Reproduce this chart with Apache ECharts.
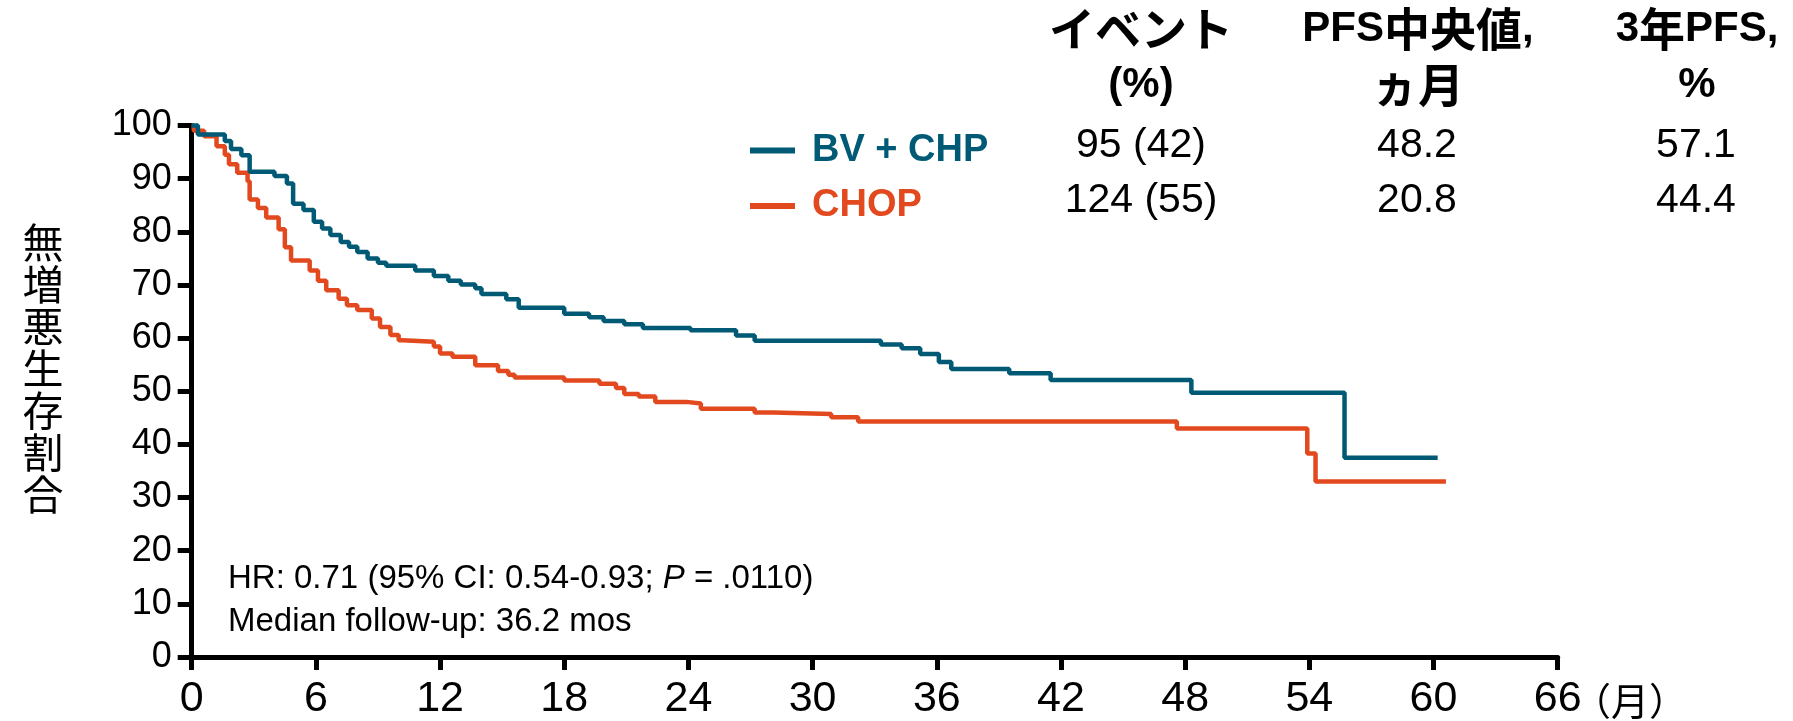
<!DOCTYPE html>
<html><head><meta charset="utf-8">
<script src="https://cdn.jsdelivr.net/npm/echarts@6/dist/echarts.min.js"></script>
<style>html,body{margin:0;padding:0;background:#fff}#c{width:1793px;height:721px}</style>
</head><body><div id="c"></div>
<script>
// ---- data ----
const seriesNames = ['BV + CHP', 'CHOP'];
const bvTimes = [0, 0.3, 1.6, 1.9, 2.4, 2.8, 4.0, 4.6, 4.9, 5.4, 5.9, 6.3, 6.7, 7.2, 7.6, 8.0, 8.5, 9.0, 9.4, 10.8, 11.7, 12.4, 13.0, 13.7, 14.0, 15.2, 15.8, 18.0, 19.2, 19.9, 20.9, 21.8, 24.1, 26.3, 27.2, 33.3, 34.3, 35.2, 36.1, 36.7, 39.5, 41.5, 48.3, 55.7, 60.2];
const bvSurv  = [100, 98.3, 97.1, 95.6, 94.4, 91.3, 90.5, 89.1, 85.3, 84.1, 81.9, 80.6, 79.4, 78.1, 77.2, 76.2, 75.0, 74.2, 73.6, 72.7, 71.7, 70.8, 70.1, 69.4, 68.3, 67.3, 65.7, 64.6, 63.9, 63.2, 62.6, 61.9, 61.5, 60.5, 59.5, 58.8, 58.1, 57.0, 55.5, 54.2, 53.4, 52.1, 49.7, 37.5, 37.5];
const chopTimes = [0, 0.1, 0.6, 1.2, 1.6, 1.8, 2.2, 2.7, 2.8, 3.2, 3.6, 4.2, 4.5, 4.8, 5.7, 6.1, 6.5, 7.1, 7.5, 8.0, 8.7, 9.1, 9.6, 10.0, 10.2, 11.7, 12.0, 12.6, 13.7, 14.8, 15.3, 15.6, 18.0, 19.7, 20.5, 20.9, 21.6, 22.4, 23.9, 24.6, 27.2, 28.1, 30.9, 32.2, 47.6, 53.9, 54.3, 60.6];
const chopSurv  = [100, 99.0, 98.0, 96.1, 94.5, 92.7, 91.1, 89.5, 86.1, 84.5, 82.7, 80.5, 77.1, 74.6, 72.7, 70.8, 69.0, 67.4, 66.2, 65.3, 63.7, 62.1, 60.6, 59.6, 59.3, 58.4, 57.1, 56.5, 54.9, 53.8, 53.1, 52.6, 52.0, 51.4, 50.6, 49.5, 49.0, 48.0, 47.7, 46.7, 46.0, 45.7, 45.1, 44.3, 43.0, 38.3, 33.0, 33.0];
const xTicks = [0, 6, 12, 18, 24, 30, 36, 42, 48, 54, 60, 66];
const yTicks = [0, 10, 20, 30, 40, 50, 60, 70, 80, 90, 100];
const headerLabels = ['{c|イベント}\n(%)', 'PFS{c|中央値},\n{c|ヵ月}', '3{c|年}PFS,\n%'];
const eventCounts = ['95 (42)', '124 (55)'];
const medianPFS = ['48.2', '20.8'];
const pfs3yr = ['57.1', '44.4'];
const yAxisName = '無増悪生存割合';
const xUnit = '（月）';
const hrText = ['HR: 0.71 (95% CI: 0.54-0.93; ', 'P', ' = .0110)'];
const followUpText = 'Median follow-up: 36.2 mos';

// ---- styles ----
const BLUE = '#005A75';
const ORANGE = '#E2491E';
const LATIN = '"Liberation Sans", "Noto Sans CJK JP", sans-serif';
const NARROW = '"Liberation Sans Narrow", "Liberation Sans", sans-serif';
const CJK = '"Noto Sans CJK JP", "Liberation Sans", sans-serif';

const chart = echarts.init(document.getElementById('c'), null, {renderer: 'canvas'});

const colX = [1141, 1418, 1697];
const rowY = [145.5, 201];
const graphics = [];
headerLabels.forEach((h, i) => {
  graphics.push({type: 'text', x: colX[i], y: 57, style: {text: h, align: 'center', verticalAlign: 'middle',
    fontSize: 42, fontWeight: 'bold', fontFamily: LATIN, lineHeight: 56, fill: '#000',
    rich: {c: {fontSize: 46, fontWeight: 'bold', fontFamily: CJK, lineHeight: 56, fill: '#000'}}}});
});
[eventCounts, medianPFS, pfs3yr].forEach((col, i) => {
  col.forEach((v, r) => {
    graphics.push({type: 'text', x: colX[i] - (i === 0 ? 0 : 1), y: rowY[r], style: {text: v, align: 'center', verticalAlign: 'middle',
      fontSize: 41, fontFamily: LATIN, fill: '#000'}});
  });
});
graphics.push({type: 'text', x: 228, y: 579, style: {
  text: hrText[0] + '{i|' + hrText[1] + '}' + hrText[2], align: 'left', verticalAlign: 'middle',
  fontSize: 33, fontFamily: LATIN, fill: '#000',
  rich: {i: {fontStyle: 'italic', fontSize: 33, fontFamily: LATIN, fill: '#000'}}}});
graphics.push({type: 'text', x: 228, y: 622, style: {text: followUpText, align: 'left', verticalAlign: 'middle',
  fontSize: 33, fontFamily: LATIN, fill: '#000'}});
graphics.push({type: 'text', x: 1630, y: 701, style: {text: xUnit, align: 'center', verticalAlign: 'middle',
  fontSize: 38, fontFamily: CJK, fill: '#000'}});
graphics.push({type: 'text', x: 43, y: 368, style: {text: yAxisName.split('').join('\n'), align: 'center', verticalAlign: 'middle',
  fontSize: 41, fontFamily: CJK, lineHeight: 42, fill: '#000'}});

const option = {
  backgroundColor: '#fff',
  animation: false,
  grid: {left: 191.7, right: 235.3, top: 125.5, bottom: 63, containLabel: false},
  legend: {
    orient: 'vertical', left: 745, top: 126.5, itemWidth: 45, itemHeight: 6, itemGap: 17.5,
    icon: 'rect', selectedMode: false,
    textStyle: {fontSize: 38, fontWeight: 'bold', fontFamily: LATIN, lineHeight: 38, padding: [0, 0, 0, 12]},
    data: [
      {name: seriesNames[0], textStyle: {color: BLUE}},
      {name: seriesNames[1], textStyle: {color: ORANGE}}
    ]
  },
  xAxis: {
    type: 'value', min: xTicks[0], max: xTicks[xTicks.length - 1], interval: 6,
    axisLine: {lineStyle: {color: '#000', width: 5}},
    axisTick: {length: 13, lineStyle: {color: '#000', width: 5}},
    axisLabel: {fontSize: 43, fontFamily: NARROW, color: '#000', margin: 21},
    splitLine: {show: false}
  },
  yAxis: {
    type: 'value', min: yTicks[0], max: yTicks[yTicks.length - 1], interval: 10,
    axisLine: {show: true, lineStyle: {color: '#000', width: 5}},
    axisTick: {show: true, length: 14, lineStyle: {color: '#000', width: 5}},
    axisLabel: {fontSize: 36, fontFamily: LATIN, color: '#000', margin: 20},
    splitLine: {show: false}
  },
  graphic: graphics,
  series: [
    {name: seriesNames[0], type: 'line', step: 'end', showSymbol: false, clip: false, z: 3,
     color: BLUE, lineStyle: {color: BLUE, width: 4.5}, emphasis: {disabled: true},
     data: bvTimes.map((t, i) => [t, bvSurv[i]])},
    {name: seriesNames[1], type: 'line', step: 'end', showSymbol: false, clip: false, z: 2,
     color: ORANGE, lineStyle: {color: ORANGE, width: 4.5}, emphasis: {disabled: true},
     data: chopTimes.map((t, i) => [t, chopSurv[i]])}
  ]
};
chart.setOption(option);
</script></body></html>
